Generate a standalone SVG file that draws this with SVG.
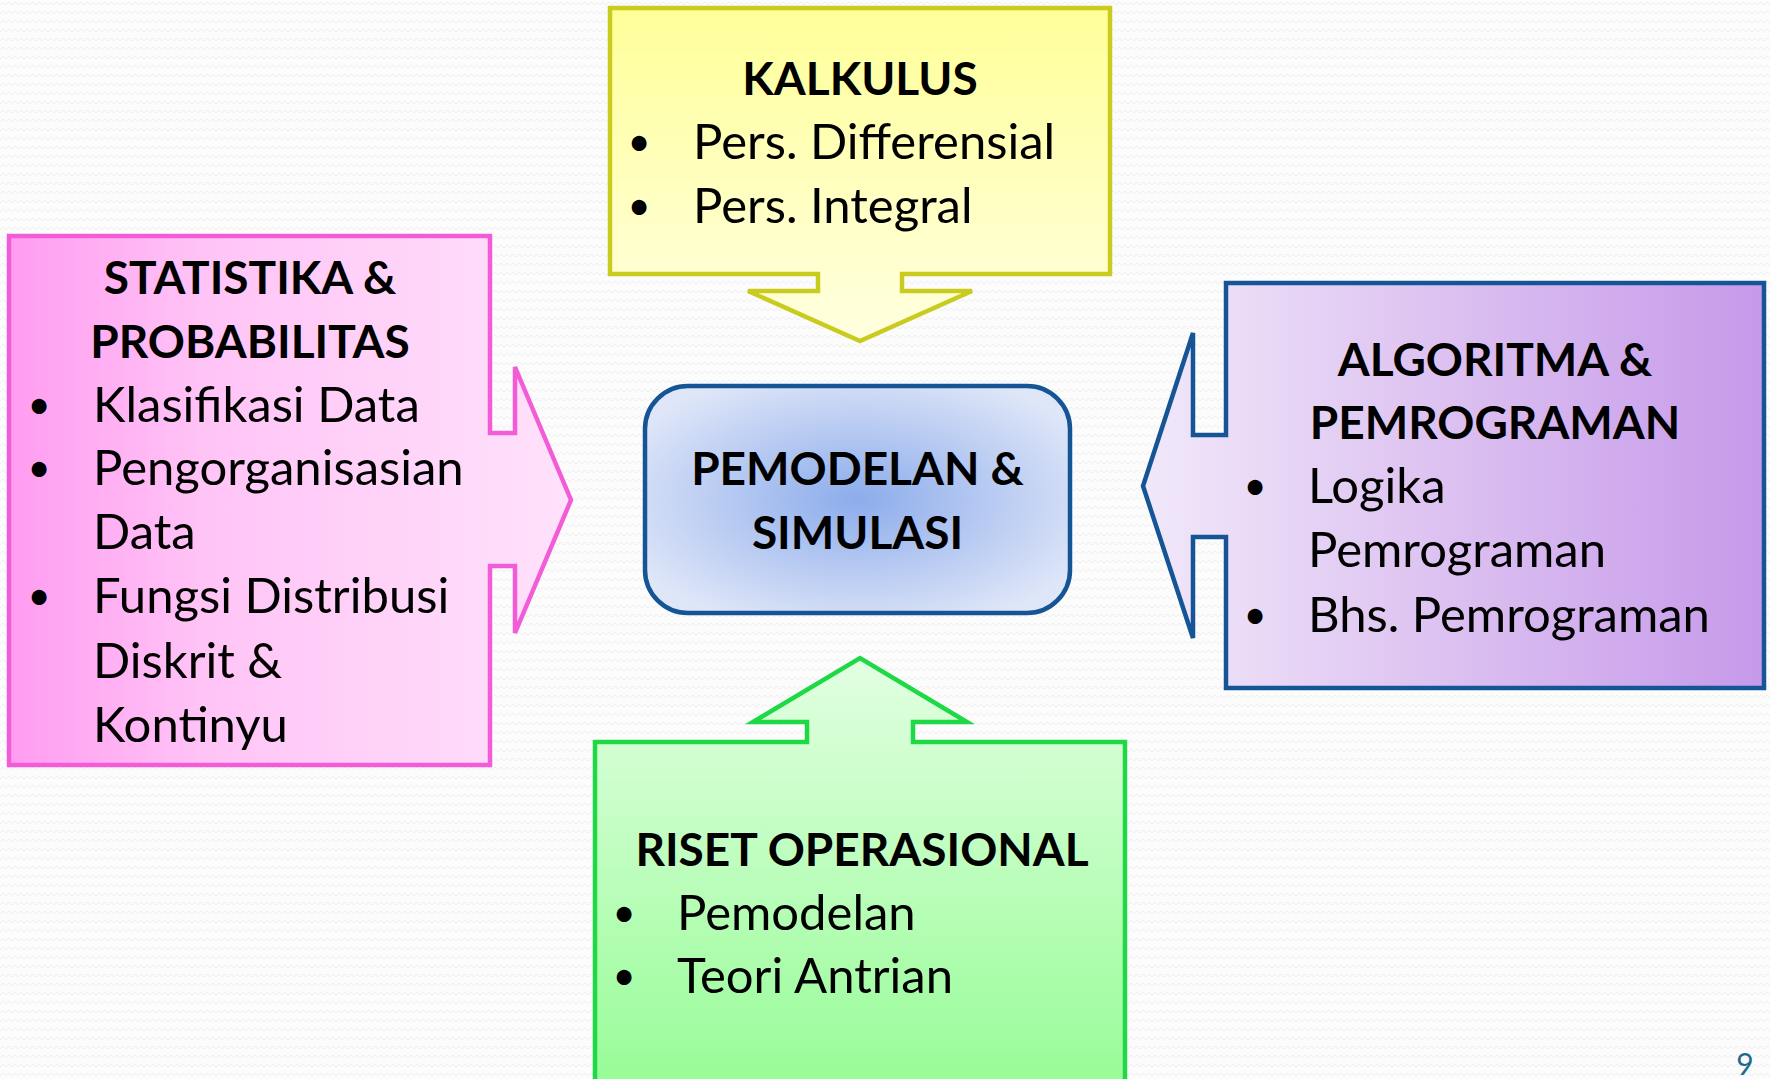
<svg xmlns="http://www.w3.org/2000/svg" width="1770" height="1079" viewBox="0 0 1770 1079">
  <style>
    .t { font-family: Lato, "Open Sans", "Liberation Sans", sans-serif; font-size: 49px; fill: #000; }
    .b { font-family: Lato, "Open Sans", "Liberation Sans", sans-serif; font-size: 46px; font-weight: bold; fill: #000; text-anchor: middle; }
    .bl { font-family: Lato, "Open Sans", "Liberation Sans", sans-serif; font-size: 40px; fill: #000; text-anchor: middle; }
    .shape { stroke-width: 4.5; stroke-linejoin: miter; }
  </style>
  <defs>
    <pattern id="bgp" width="12" height="9" patternUnits="userSpaceOnUse">
      <path d="M0,5 L3,2 L6,5 L9,2 L12,5" fill="none" stroke="#efefef" stroke-width="1"/>
    </pattern>
    <linearGradient id="gY" x1="0" y1="0" x2="0" y2="1">
      <stop offset="0" stop-color="#ffff99"/>
      <stop offset="1" stop-color="#ffffe0"/>
    </linearGradient>
    <linearGradient id="gP" x1="0" y1="0" x2="1" y2="0">
      <stop offset="0" stop-color="#ff9cf0"/>
      <stop offset="0.35" stop-color="#ffc4f6"/>
      <stop offset="1" stop-color="#ffe2fb"/>
    </linearGradient>
    <linearGradient id="gV" x1="0" y1="0" x2="1" y2="0">
      <stop offset="0" stop-color="#f1e8fa"/>
      <stop offset="0.4" stop-color="#e0c8f2"/>
      <stop offset="1" stop-color="#c699ea"/>
    </linearGradient>
    <linearGradient id="gG" x1="0" y1="0" x2="0" y2="1">
      <stop offset="0" stop-color="#e2ffe2"/>
      <stop offset="1" stop-color="#96fc96"/>
    </linearGradient>
    <radialGradient id="gB" cx="0.5" cy="0.5" r="0.6">
      <stop offset="0" stop-color="#8caceb"/>
      <stop offset="1" stop-color="#dfe6f8"/>
    </radialGradient>
  </defs>

  <rect x="0" y="0" width="1770" height="1079" fill="#fcfcfc"/>
  <rect x="0" y="0" width="1770" height="1079" fill="url(#bgp)"/>

  <g id="connectors"></g>

  <g id="kalkulus">
    <path class="shape" d="M610,8 H1110 V274 H902 V291 H972 L860,341 L748,291 H818 V274 H610 Z" fill="url(#gY)" stroke="#c9cc1e"/>
    <text class="b" x="860" y="95">KALKULUS</text>
    <text class="bl" x="639" y="156">•</text>
    <text class="t" x="693" y="159">Pers. Differensial</text>
    <text class="bl" x="639" y="220">•</text>
    <text class="t" x="693" y="223">Pers. Integral</text>
  </g>

  <g id="statistika">
    <path class="shape" d="M9,236 H490 V433 H515 V367 L571,500 L515,633 V566 H490 V765 H9 Z" fill="url(#gP)" stroke="#f25cd6"/>
    <text class="b" x="250" y="294">STATISTIKA &amp;</text>
    <text class="b" x="250" y="358">PROBABILITAS</text>
    <text class="bl" x="39" y="419">•</text>
    <text class="t" x="93" y="422">Klasifikasi Data</text>
    <text class="bl" x="39" y="482">•</text>
    <text class="t" x="93" y="485">Pengorganisasian</text>
    <text class="t" x="93" y="549">Data</text>
    <text class="bl" x="39" y="610">•</text>
    <text class="t" x="93" y="613">Fungsi Distribusi</text>
    <text class="t" x="93" y="678">Diskrit &amp;</text>
    <text class="t" x="93" y="742">Kontinyu</text>
  </g>

  <g id="algoritma">
    <path class="shape" d="M1226,283 H1764 V688 H1226 V537 H1193 V638 L1143,486 L1193,333 V435 H1226 Z" fill="url(#gV)" stroke="#155596"/>
    <text class="b" x="1495" y="376">ALGORITMA &amp;</text>
    <text class="b" x="1495" y="439">PEMROGRAMAN</text>
    <text class="bl" x="1255" y="500">•</text>
    <text class="t" x="1308" y="503">Logika</text>
    <text class="t" x="1308" y="567">Pemrograman</text>
    <text class="bl" x="1255" y="629">•</text>
    <text class="t" x="1308" y="632">Bhs. Pemrograman</text>
  </g>

  <g id="riset">
    <path class="shape" d="M595,742 H807 V722 H753 L860,658 L967,722 H913 V742 H1125 V1090 H595 Z" fill="url(#gG)" stroke="#1ed846"/>
    <text class="b" x="862" y="866">RISET OPERASIONAL</text>
    <text class="bl" x="624" y="927">•</text>
    <text class="t" x="677" y="930">Pemodelan</text>
    <text class="bl" x="624" y="990">•</text>
    <text class="t" x="677" y="993">Teori Antrian</text>
  </g>

  <g id="pemodelan">
    <rect x="645" y="386" width="425" height="227" rx="43" fill="url(#gB)" stroke="#155596" stroke-width="4.5"/>
    <text class="b" x="857.5" y="485">PEMODELAN &amp;</text>
    <text class="b" x="857.5" y="549">SIMULASI</text>
  </g>

  <text x="1745" y="1075" font-family="Lato, 'Open Sans', sans-serif" font-size="30" fill="#1e6c8c" text-anchor="middle">9</text>
</svg>
